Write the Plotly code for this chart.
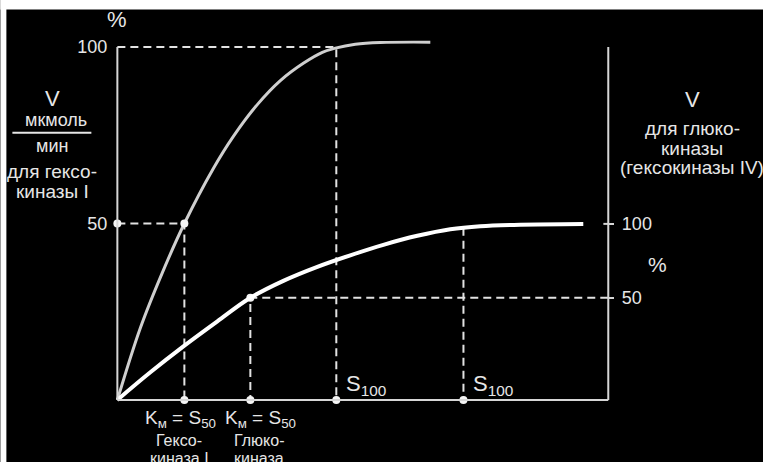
import plotly.graph_objects as go

# ---------------- data (schematic units: substrate 0..10, V in % of hexokinase I Vmax) -------------
S_MAX = 10
V_MAX = 100

HK_S = [0, 0.468, 0.917, 1.365, 1.955, 2.363, 2.851, 3.320, 3.788, 4.175, 4.440, 4.847, 5.356, 6.375]
HK_V = [0, 20.4, 36.1, 50.0, 65.6, 74.7, 83.7, 90.5, 95.4, 98.5, 99.7, 100.8, 101.3, 101.4]

GK_S = [0, 0.672, 1.365, 2.037, 2.709, 3.381, 4.073, 4.745, 5.418, 6.110, 6.782, 7.393, 8.208, 9.491]
GK_V = [0, 7.83, 15.38, 22.27, 28.94, 33.76, 37.73, 41.0, 43.97, 46.52, 48.37, 49.22, 49.65, 49.85]

HK_KM = 1.365     # Km = S50 hexokinase I
HK_S100 = 4.46    # S100 hexokinase I
GK_KM = 2.709     # Km = S50 glucokinase
GK_S100 = 7.05    # S100 glucokinase
GK_KM_V = 28.94   # glucokinase V at Km (right axis "50")
GK_S100_V = 48.8  # glucokinase V at S100
GK_VMAX = 49.9    # glucokinase plateau (right axis "100")

LEFT_TICKS = [50, 100]
LEFT_TICK_TEXT = ["50", "100"]
RIGHT_TICKS = [GK_KM_V, GK_VMAX]
RIGHT_TICK_TEXT = ["50", "100"]

# ---------------- layout geometry ----------------
W, H = 763, 462
X_RANGE = [-0.15, 10.3]
Y_RANGE = [-2, 104]
AX_X0, AX_X1 = 117, 608       # pixel of S=0 and S=10
AX_Y0, AX_Y100 = 400, 47.5    # pixel of V=0 and V=100
kx = (AX_X1 - AX_X0) / S_MAX
ky = (AX_Y0 - AX_Y100) / V_MAX
plot_left = AX_X0 + X_RANGE[0] * kx
plot_right = AX_X0 + X_RANGE[1] * kx
plot_top = AX_Y0 - Y_RANGE[1] * ky
plot_bottom = AX_Y0 - Y_RANGE[0] * ky
pw = plot_right - plot_left
ph = plot_bottom - plot_top


def pxx(x):
    return (x - plot_left) / pw


def pxy(y):
    return (plot_bottom - y) / ph


FONT = "Liberation Sans, Arial, Helvetica, sans-serif"
TXT = "#e6e6e6"
AXC = "#d6d6d6"
DASHC = "#e2e2e2"

fig = go.Figure()

# dashed guide lines
gx = [0, HK_S100, HK_S100, None, 0, HK_KM, HK_KM, None,
      S_MAX, GK_KM, GK_KM, None, GK_S100, GK_S100]
gy = [V_MAX, V_MAX, 0, None, 50, 50, 0, None,
      GK_KM_V, GK_KM_V, 0, None, GK_S100_V, 0]
fig.add_trace(go.Scatter(x=gx, y=gy, mode="lines", hoverinfo="skip",
                         line=dict(color=DASHC, width=2, dash="8px,5px")))

# hexokinase I curve
fig.add_trace(go.Scatter(x=HK_S, y=HK_V, mode="lines", hoverinfo="skip",
                         line=dict(color="#cfcfcf", width=3, shape="spline", smoothing=1.0)))
# glucokinase curve
fig.add_trace(go.Scatter(x=GK_S, y=GK_V, mode="lines", hoverinfo="skip", yaxis="y2",
                         line=dict(color="#ffffff", width=4, shape="spline", smoothing=1.0)))

# dots
mx = [0, HK_KM, GK_KM, HK_KM, GK_KM, HK_S100, GK_S100]
my = [50, 50, GK_KM_V, 0, 0, 0, 0]
fig.add_trace(go.Scatter(x=mx, y=my, mode="markers", hoverinfo="skip", cliponaxis=False,
                         marker=dict(color="#f4f4f4", size=8)))

shapes = [
    # white frame margins of the picture
    dict(type="rect", xref="paper", yref="paper", x0=pxx(0), x1=pxx(W), y0=pxy(0), y1=pxy(10),
         fillcolor="white", line_width=0, layer="below"),
    dict(type="rect", xref="paper", yref="paper", x0=pxx(0), x1=pxx(6), y0=pxy(0), y1=pxy(H),
         fillcolor="white", line_width=0, layer="below"),
    # axes
    dict(type="line", xref="x", yref="y", x0=0, x1=0, y0=0, y1=V_MAX, line=dict(color=AXC, width=2)),
    dict(type="line", xref="x", yref="y", x0=0, x1=S_MAX, y0=0, y1=0, line=dict(color=AXC, width=2)),
    dict(type="line", xref="x", yref="y", x0=S_MAX, x1=S_MAX, y0=0, y1=V_MAX, line=dict(color=AXC, width=2)),
    dict(type="line", xref="x", yref="y", x0=S_MAX - 0.1, x1=S_MAX, y0=GK_VMAX, y1=GK_VMAX,
         line=dict(color=AXC, width=2)),
    # fraction bar under "мкмоль"
    dict(type="line", xref="paper", yref="paper", x0=pxx(12), x1=pxx(91), y0=pxy(133), y1=pxy(133),
         line=dict(color=TXT, width=2)),
]

ann = []


def A(text, x, y, size, xanchor="center"):
    ann.append(dict(text=text, xref="paper", yref="paper", x=pxx(x), y=pxy(y), xanchor=xanchor,
                    yanchor="middle", showarrow=False, font=dict(family=FONT, size=size, color=TXT)))


A("%", 117, 20, 22)
A("V", 52, 99, 22)
A("мкмоль", 56, 120, 18)
A("мин", 52, 146, 18)
A("для гексо-", 52, 172, 19)
A("киназы I", 52, 192, 19)

A("V", 692, 100, 22)
A("для глюко-", 692, 129, 19)
A("киназы", 692, 149, 19)
A("(гексокиназы IV)", 692, 168, 19)
A("%", 657, 265, 21)

A("S<sub>100</sub>", 344, 385, 22, "left")
A("S<sub>100</sub>", 471, 385, 22, "left")

A("K<sub>м</sub> = S<sub>50</sub>", 180, 419, 19)
A("K<sub>м</sub> = S<sub>50</sub>", 260, 419, 19)
A("Гексо-", 179, 441, 16)
A("киназа I", 179, 459, 16)
A("Глюко-", 259, 441, 16)
A("киназа", 259, 459, 16)

fig.update_layout(
    width=W, height=H,
    margin=dict(l=plot_left, r=W - plot_right, t=plot_top, b=H - plot_bottom, pad=0),
    paper_bgcolor="black", plot_bgcolor="black",
    showlegend=False,
    font=dict(family=FONT, color=TXT, size=16),
    xaxis=dict(range=X_RANGE, visible=False, fixedrange=True),
    yaxis=dict(range=Y_RANGE, tickvals=LEFT_TICKS, ticktext=LEFT_TICK_TEXT, showgrid=False,
               zeroline=False, showline=False, ticks="", anchor="free", position=pxx(AX_X0),
               ticklabelstandoff=10, tickfont=dict(size=18, color=TXT, family=FONT), fixedrange=True),
    yaxis2=dict(range=Y_RANGE, overlaying="y", side="right", tickvals=RIGHT_TICKS,
                ticktext=RIGHT_TICK_TEXT, showgrid=False, zeroline=False, showline=False,
                ticks="outside", ticklen=5, tickwidth=2, tickcolor=AXC, anchor="free",
                position=pxx(AX_X1), ticklabelstandoff=4,
                tickfont=dict(size=18, color=TXT, family=FONT), fixedrange=True),
    shapes=shapes,
    annotations=ann,
)

fig.write_html("out.html", config={"displayModeBar": False},
               post_script="document.body.style.margin='0';document.body.style.overflow='hidden';")
